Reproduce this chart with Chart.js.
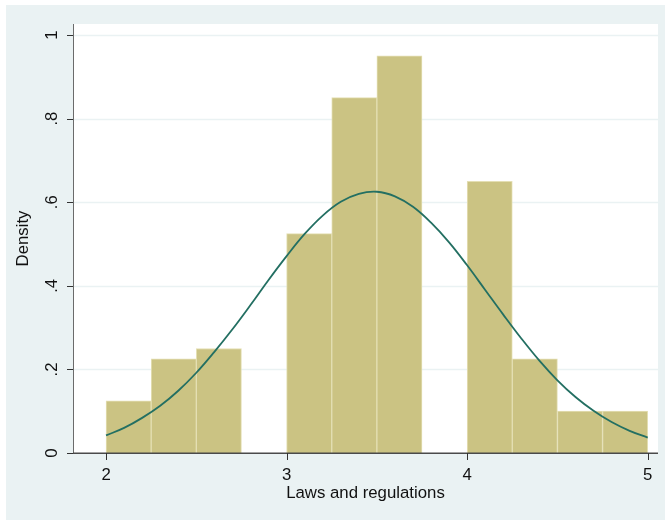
<!DOCTYPE html>
<html>
<head>
<meta charset="utf-8">
<script src="https://cdn.jsdelivr.net/npm/chart.js@4.4.1/dist/chart.umd.min.js"></script>
<style>
  html, body { margin: 0; padding: 0; background: #ffffff; }
  #wrap { width: 665px; height: 520px; position: relative; }
</style>
</head>
<body>
<div id="wrap"><canvas id="c" width="665" height="520"></canvas></div>
<script>
// Histogram bins (centers) and densities
const binCenters = [2.125, 2.375, 2.625, 2.875, 3.125, 3.375, 3.625, 3.875, 4.125, 4.375, 4.625, 4.875];
const densities  = [0.125, 0.225, 0.25, 0, 0.525, 0.85, 0.95, 0, 0.65, 0.225, 0.1, 0.1];

// Normal density overlay
const curveX = [2.0, 2.1, 2.2, 2.3, 2.4, 2.5, 2.6, 2.7, 2.8, 2.9, 3.0, 3.1, 3.2, 3.3, 3.4, 3.5,
                3.6, 3.7, 3.8, 3.9, 4.0, 4.1, 4.2, 4.3, 4.4, 4.5, 4.6, 4.7, 4.8, 4.9, 5.0];
const curveY = [0.042, 0.060, 0.084, 0.113, 0.149, 0.192, 0.242, 0.296, 0.354, 0.414, 0.471,
                0.524, 0.568, 0.601, 0.620, 0.625, 0.614, 0.589, 0.551, 0.504, 0.449, 0.390,
                0.331, 0.274, 0.221, 0.174, 0.134, 0.101, 0.074, 0.053, 0.037];

// Axis ticks and labels
const xTicks = [2, 3, 4, 5];
const yTicks = [0, 0.2, 0.4, 0.6, 0.8, 1];
const yTickLabels = ['0', '.2', '.4', '.6', '.8', '1'];
const xTitle = 'Laws and regulations';
const yTitle = 'Density';

const FONT = '16.8px "Liberation Sans", Arial, sans-serif';

const decor = {
  id: 'decor',
  beforeDraw(chart) {
    const ctx = chart.ctx, a = chart.chartArea;
    ctx.save();
    ctx.fillStyle = '#ffffff';
    ctx.fillRect(0, 0, chart.width, chart.height);
    ctx.fillStyle = '#eaf2f3';
    ctx.fillRect(6, 5, chart.width - 6, chart.height - 5);
    ctx.fillStyle = '#ffffff';
    ctx.fillRect(a.left, a.top, a.right - a.left, a.bottom - a.top);
    ctx.restore();
  },
  beforeDatasetsDraw(chart) {
    const ctx = chart.ctx, a = chart.chartArea, y = chart.scales.y;
    ctx.save();
    ctx.strokeStyle = '#eaf2f3';
    ctx.lineWidth = 1.5;
    yTicks.forEach(v => {
      if (v === 0) return;
      const py = Math.round(y.getPixelForValue(v)) + 0.5;
      ctx.beginPath();
      ctx.moveTo(a.left, py);
      ctx.lineTo(a.right, py);
      ctx.stroke();
    });
    ctx.restore();
  },
  afterDatasetsDraw(chart) {
    const ctx = chart.ctx, a = chart.chartArea, x = chart.scales.x, y = chart.scales.y;
    ctx.save();
    // axis lines
    ctx.strokeStyle = '#6b6b6b';
    ctx.lineWidth = 1;
    ctx.beginPath();
    ctx.moveTo(a.left + 0.5, a.top);
    ctx.lineTo(a.left + 0.5, a.bottom);
    ctx.stroke();
    ctx.strokeStyle = '#4a4a4a';
    ctx.lineWidth = 1.5;
    ctx.beginPath();
    ctx.moveTo(a.left, a.bottom + 0.25);
    ctx.lineTo(a.right, a.bottom + 0.25);
    ctx.stroke();
    // tick marks
    ctx.strokeStyle = '#333333';
    ctx.lineWidth = 1;
    yTicks.forEach(v => {
      const py = Math.round(y.getPixelForValue(v)) + 0.5;
      ctx.beginPath();
      ctx.moveTo(a.left - 6, py);
      ctx.lineTo(a.left, py);
      ctx.stroke();
    });
    xTicks.forEach(v => {
      const px = Math.round(x.getPixelForValue(v)) + 0.5;
      ctx.beginPath();
      ctx.moveTo(px, a.bottom);
      ctx.lineTo(px, a.bottom + 7);
      ctx.stroke();
    });
    // labels
    ctx.fillStyle = '#111111';
    ctx.font = FONT;
    ctx.textAlign = 'center';
    ctx.textBaseline = 'middle';
    xTicks.forEach(v => {
      ctx.fillText(String(v), x.getPixelForValue(v), a.bottom + 22.5);
    });
    ctx.fillText(xTitle, (a.left + a.right) / 2, a.bottom + 40.5);
    yTicks.forEach((v, i) => {
      ctx.save();
      ctx.translate(a.left - 21, y.getPixelForValue(v));
      ctx.rotate(-Math.PI / 2);
      ctx.fillText(yTickLabels[i], 0, 0);
      ctx.restore();
    });
    ctx.save();
    ctx.translate(23, (a.top + a.bottom) / 2);
    ctx.rotate(-Math.PI / 2);
    ctx.fillText(yTitle, 0, 0);
    ctx.restore();
    ctx.restore();
  }
};

new Chart(document.getElementById('c'), {
  data: {
    datasets: [
      {
        type: 'line',
        data: curveX.map((v, i) => ({ x: v, y: curveY[i] })),
        borderColor: '#236f62',
        borderWidth: 1.8,
        pointRadius: 0,
        tension: 0.4,
        fill: false,
        order: 0
      },
      {
        type: 'bar',
        data: binCenters.map((v, i) => ({ x: v, y: densities[i] })),
        backgroundColor: '#cbc383',
        borderColor: '#e4dfb4',
        borderWidth: 1,
        barPercentage: 1,
        categoryPercentage: 1,
        order: 1
      }
    ]
  },
  options: {
    responsive: false,
    animation: false,
    devicePixelRatio: 1,
    layout: { padding: { left: 73, top: 24, right: 7, bottom: 67 } },
    plugins: { legend: { display: false }, tooltip: { enabled: false } },
    scales: {
      x: { type: 'linear', min: 1.817, max: 5.057, display: false, offset: false },
      y: { type: 'linear', min: 0, max: 1.0263, display: false }
    }
  },
  plugins: [decor]
});
</script>
</body>
</html>
